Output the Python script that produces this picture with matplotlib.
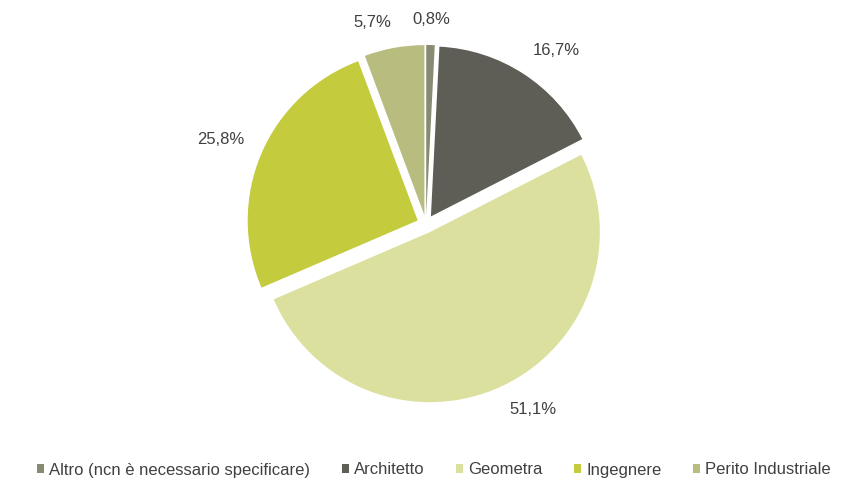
import numpy as np
import matplotlib
matplotlib.use("Agg")
import matplotlib.pyplot as plt

categories = ["Altro (ncn è necessario specificare)", "Architetto", "Geometra", "Ingegnere", "Perito Industriale"]
values = [0.8, 16.7, 51.1, 25.8, 5.7]
colors = ["#878B71", "#5F5E56", "#DCE09E", "#C4CB3C", "#B8BC7F"]

plt.rcParams['font.family'] = ['Liberation Sans', 'DejaVu Sans']

W, H = 853, 497
fig = plt.figure(figsize=(W / 100, H / 100), dpi=100)
ax = fig.add_axes([0, 0, 1, 1])

R = 170.0
cx, cy = 426.0, 273.0

labels = [f"{v:.1f}%".replace('.', ',') for v in values]
wedges, _ = ax.pie(values, colors=colors, startangle=90, counterclock=False,
                   explode=[0.053] * len(values), wedgeprops={'linewidth': 0})

# data labels placed outside like Excel's best fit: anchored at the text edge
for w, lab in zip(wedges, labels):
    mid = np.deg2rad((w.theta1 + w.theta2) / 2)
    c, s = np.cos(mid), np.sin(mid)
    r = 1.16
    ha = 'left' if c > 0.1 else ('right' if c < -0.1 else 'center')
    va = 'bottom' if s > 0.1 else ('top' if s < -0.1 else 'center')
    ax.text(r * c, r * s, lab, ha=ha, va=va, fontsize=12, color='#404040')

ax.set_xlim(-cx / R, (W - cx) / R)
ax.set_ylim(-cy / R, (H - cy) / R)
ax.set_aspect('auto')
ax.axis('off')

fig.legend(wedges, categories, loc='center', bbox_to_anchor=(434 / W, (H - 470) / H),
           ncol=5, frameon=False, fontsize=12, handlelength=0.42, handleheight=0.42,
           handletextpad=0.3, columnspacing=1.9, labelcolor='#404040')

fig.savefig("out.png", dpi=100)
